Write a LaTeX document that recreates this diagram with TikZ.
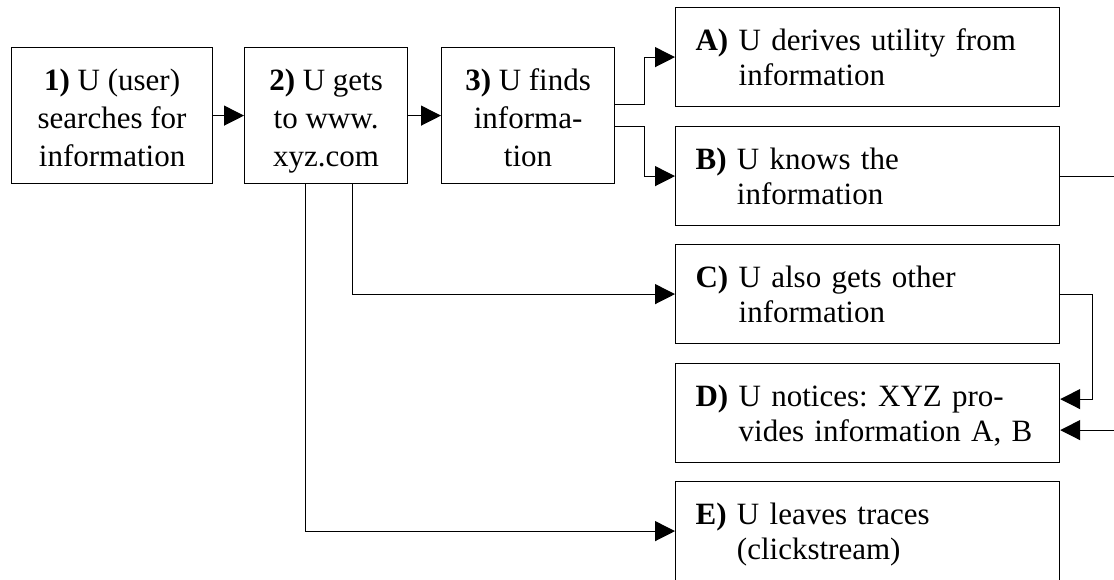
\documentclass[tikz,border=0pt]{standalone}
\usepackage{fontspec}
\setmainfont{Liberation Serif}
\usetikzlibrary{arrows.meta}
\frenchspacing
\newcommand{\stagetext}[4]{\begin{tabular}[t]{@{}c@{}}\textbf{#1)} #2\\#3\\#4\end{tabular}}
\newcommand{\outcometext}[3]{\begin{tabular}[t]{@{}l@{ }l@{}}\textbf{#1)} & #2\\ & #3\end{tabular}}
\begin{document}
\begin{tikzpicture}[x=1pt, y=-1pt, line width=1.2pt,
% common options for the left boxes:
stage/.style = {draw, anchor=north west, inner sep=0, minimum height=136pt,
            text height=43pt, text depth=93pt, font=\fontsize{31}{38}\selectfont},
% common options for the right boxes:
outcome/.style = {draw, anchor=north west, inner xsep=20pt, inner ysep=0,
            text width=344pt, align=left, minimum height=99pt,
            text height=43pt, text depth=56pt, font=\fontsize{31}{35}\selectfont},
arr/.style = {-{Triangle[length=20pt,width=20pt]}}]
\useasboundingbox (0,0) rectangle (1114,579);
\node[stage, minimum width=201pt] (n1) at (11,47) {\stagetext{1}{U (user)}{searches for}{information}};
\node[stage, minimum width=163pt] (n2) at (244,47) {\stagetext{2}{U gets}{to www.}{xyz.com}};
\node[stage, minimum width=173pt] (n3) at (441,47) {\stagetext{3}{U finds}{informa-}{tion}};
\node[outcome] (nA) at (675,7) {\outcometext{A}{U derives utility from}{information}};
\node[outcome] (nB) at (675,126) {\outcometext{B}{U knows the}{information}};
\node[outcome] (nC) at (675,244) {\outcometext{C}{U also gets other}{information}};
\node[outcome] (nD) at (675,363) {\outcometext{D}{U notices: XYZ pro-}{vides information A, B}};
\node[outcome] (nE) at (675,481) {\outcometext{E}{U leaves traces}{(clickstream)}};
\draw[arr] (n1) -- (n2);
\draw[arr] (n2) -- (n3);
\draw[arr] ([yshift=11pt]n3.east) -- ++(29,0) |- (nA.west);
\draw[arr] ([yshift=-11pt]n3.east) -- ++(29,0) |- (nB.west);
\draw[arr] ([xshift=26.5pt]n2.south) |- (nC.west);
\draw[arr] ([xshift=-20.5pt]n2.south) |- (nE.west);
\draw[arr] (nC.east) -- ++(32,0) |- ([yshift=14pt]nD.east);
\draw[arr] (nB.east) -- ++(57,0) |- ([yshift=-17pt]nD.east);
\end{tikzpicture}
\end{document}
